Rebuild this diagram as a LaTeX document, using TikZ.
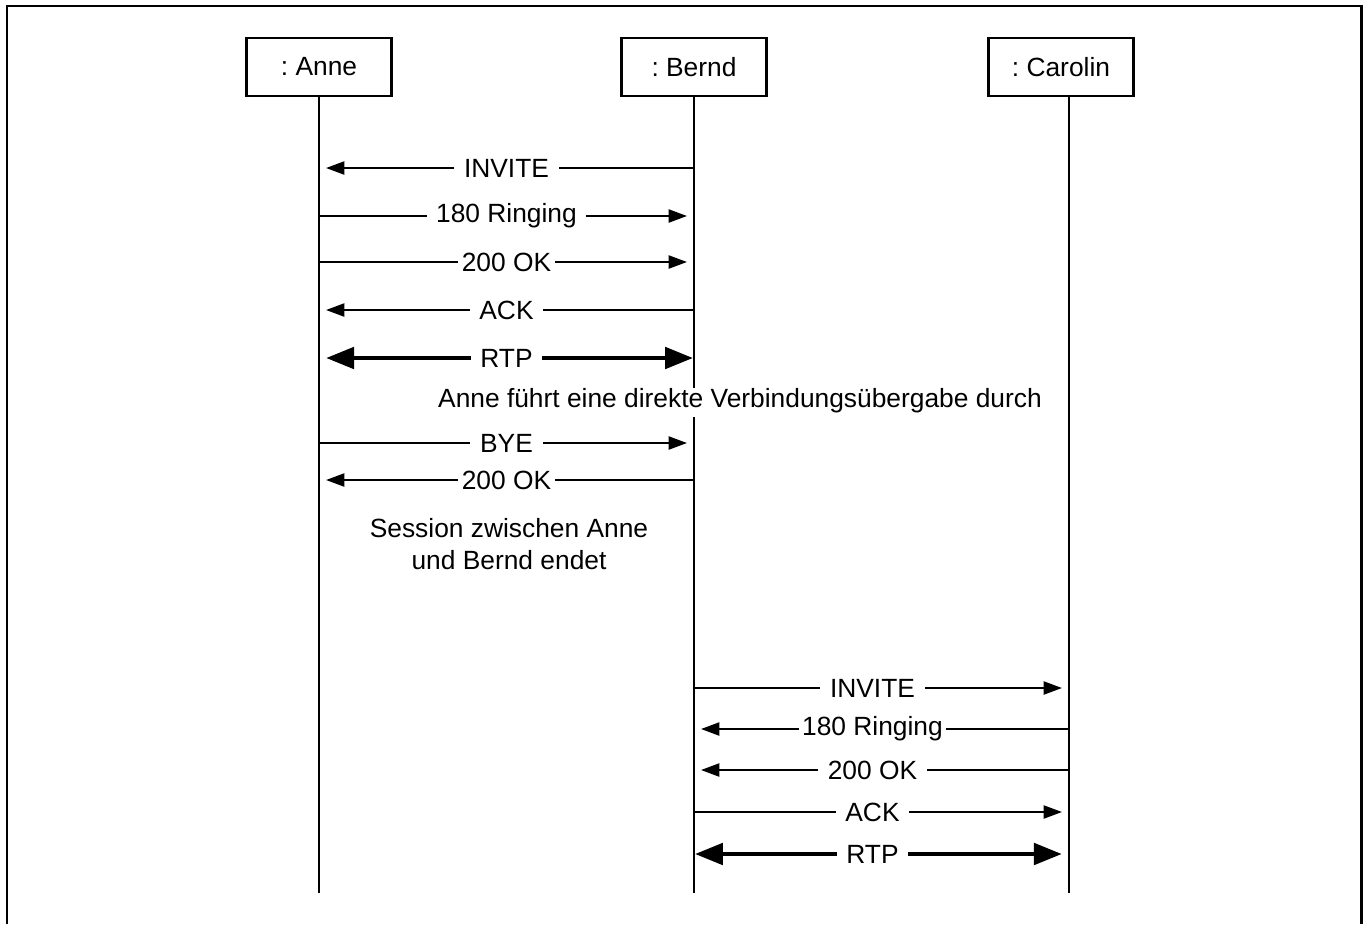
\documentclass[tikz,border=0pt]{standalone}
\usepackage{fontspec}
\setmainfont{Liberation Sans}
\usetikzlibrary{arrows.meta}

\tikzset{
  lifebox/.style = {draw, line width=1.4pt, minimum width=2.9cm, minimum height=1.16cm, inner sep=0pt},
  lifeline/.style = {line width=1.2pt},
  msg/.style = {draw, line width=1.1pt, -{Triangle[length=10.5pt,width=7.5pt]}, shorten >=4pt},
  rtp/.style = {draw, line width=2.8pt, {Triangle[length=16pt,width=12pt]}-{Triangle[length=16pt,width=12pt]}, shorten >=4pt, shorten <=0.5pt},
  lbl/.style = {fill=white, inner xsep=5.5pt, inner ysep=1pt},
  tight/.style = {inner xsep=2pt}
}

\begin{document}
\begin{tikzpicture}[x=0.02cm, y=-0.02cm, font=\fontsize{15}{18}\selectfont]
\useasboundingbox (0,0) rectangle (1367,924);
% frame
\draw[line width=1.7pt] (7,924) -- (7,6) -- (1361,6) -- (1361,924);

\begin{scope}[every node/.style = {lifebox}]
\node (anne) at (319,67) {:~Anne};
\node (bernd) at (694,67) {:~Bernd};
\node (carolin) at (1061,67) {:~Carolin};
\end{scope}

% lifelines
\coordinate (aEnd) at (319,893);
\coordinate (bGap1) at (694,388);
\coordinate (bGap2) at (694,417);
\coordinate (bEnd) at (694,893);
\coordinate (cTop) at (1069,96);
\coordinate (cEnd) at (1069,893);
\draw[lifeline] (anne) -- (aEnd);
\draw[lifeline] (bernd) -- (bGap1);
\draw[lifeline] (bGap2) -- (bEnd);
\draw[lifeline] (cTop) -- (cEnd);

% message rows
\foreach \n/\y in {1/168,2/216,3/262,4/310,5/358,6/443,7/480} {
  \coordinate (a\n) at (319,\y);
  \coordinate (b\n) at (694,\y);
}
\foreach \n/\y in {8/688,9/729,10/770,11/812,12/854} {
  \coordinate (b\n) at (694,\y);
  \coordinate (c\n) at (1069,\y);
}

\begin{scope}[every node/.style = {lbl}]
\path (b1) edge[msg] node {INVITE} (a1);
\path (a2) edge[msg] node {180 Ringing} (b2);
\path (a3) edge[msg] node[tight] {200 OK} (b3);
\path (b4) edge[msg] node {ACK} (a4);
\path (b5) edge[rtp] node {RTP} (a5);
\path (a6) edge[msg] node {BYE} (b6);
\path (b7) edge[msg] node[tight] {200 OK} (a7);
\end{scope}

\node (handover) at (740,401) {Anne führt eine direkte Verbindungsübergabe durch};
\node[align=center] (session) at (509,544) {Session zwischen Anne\\und Bernd endet};

\begin{scope}[every node/.style = {lbl, xshift=-0.18cm}]
\path (b8) edge[msg] node {INVITE} (c8);
\path (c9) edge[msg] node[tight] {180 Ringing} (b9);
\path (c10) edge[msg] node {200 OK} (b10);
\path (b11) edge[msg] node {ACK} (c11);
\path (b12) edge[rtp] node {RTP} (c12);
\end{scope}
\end{tikzpicture}
\end{document}
